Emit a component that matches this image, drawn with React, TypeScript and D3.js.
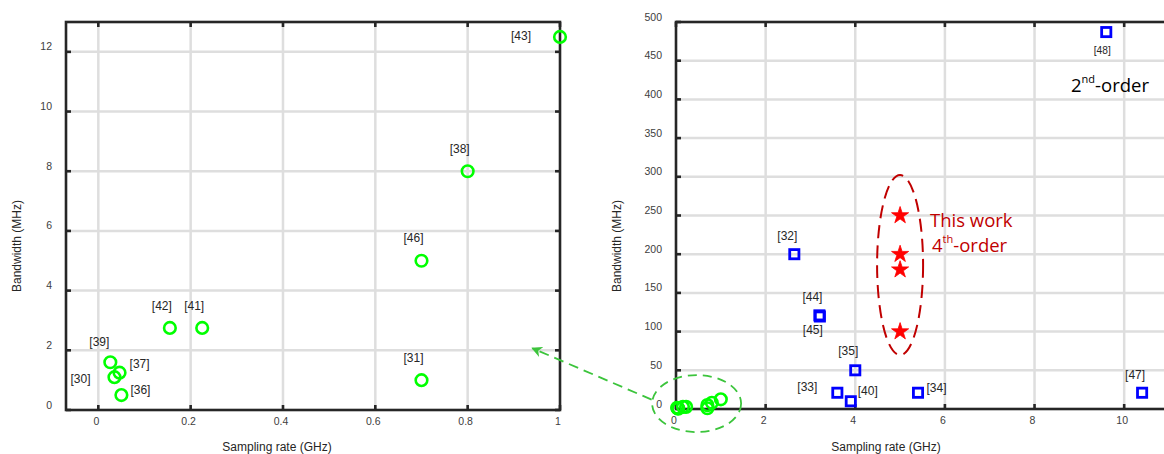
import React, { useEffect, useRef } from "react";
import * as d3 from "d3";

// low sampling-rate references (green circles), shown in both panels
const lowRateLabels = ["[43]", "[38]", "[46]", "[31]", "[42]", "[41]", "[39]", "[37]", "[30]", "[36]"];
const lowRateFs = [1.0, 0.8, 0.7, 0.7, 0.155, 0.225, 0.026, 0.046, 0.035, 0.05]; // GHz
const lowRateBw = [12.5, 8, 5, 1, 2.75, 2.75, 1.6, 1.25, 1.1, 0.5]; // MHz

// 2nd-order references (blue squares)
const highRateLabels = ["[48]", "[32]", "[44]", "[45]", "[35]", "[33]", "[40]", "[34]", "[47]"];
const highRateFs = [9.6, 2.64, 3.2, 3.21, 4.0, 3.6, 3.9, 5.4, 10.4];
const highRateBw = [487, 200, 121, 119.5, 50, 21, 10, 21, 21];

// this work, 4th-order (red stars)
const thisWorkFs = [5, 5, 5, 5];
const thisWorkBw = [250, 200, 180, 100];

const leftXTicks = [0, 0.2, 0.4, 0.6, 0.8, 1];
const leftYTicks = [0, 2, 4, 6, 8, 10, 12];
const rightXTicks = [0, 2, 4, 6, 8, 10];
const rightYTicks = [0, 50, 100, 150, 200, 250, 300, 350, 400, 450, 500];

// label placement, pixel offsets from the marker
const labelOffsets: Record<string, [number, number]> = {
  "[43]": [-39, -1],
  "[38]": [-8, -22],
  "[46]": [-8, -22.5],
  "[31]": [-8, -22.5],
  "[42]": [-8, -22.5],
  "[41]": [-8, -22.5],
  "[39]": [-11, -20],
  "[37]": [20, -9],
  "[30]": [-34, 1.5],
  "[36]": [19, -5],
  "[48]": [-4, 18],
  "[32]": [-7, -18],
  "[44]": [-7, -19],
  "[45]": [-7, 13],
  "[35]": [-7, -20],
  "[33]": [-30, -6],
  "[40]": [17, -10],
  "[34]": [18.5, -4.5],
  "[47]": [-7, -18],
};

const W = 1164;
const H = 454;
const FRAME = "#262626";
const GRID = "#dedede";
const GREEN = "#00ff00";
const DASH_GREEN = "#3cc43c";
const tickFont = "'Liberation Sans', Arial, sans-serif";

function starPath(cx: number, cy: number, R: number) {
  const r = R * 0.382;
  const pts: [number, number][] = [];
  for (let i = 0; i < 10; i++) {
    const a = -Math.PI / 2 + (i * Math.PI) / 5;
    const rr = i % 2 === 0 ? R : r;
    pts.push([cx + rr * Math.cos(a), cy + rr * Math.sin(a)]);
  }
  return "M" + pts.map((p) => p.join(",")).join("L") + "Z";
}

const App: React.FC = () => {
  const svgRef = useRef<SVGSVGElement | null>(null);

  useEffect(() => {
    if (!svgRef.current) return;
    const svg = d3.select(svgRef.current);
    svg.selectAll("*").remove();

    const lowData = lowRateLabels.map((l, i) => ({ label: l, fs: lowRateFs[i], bw: lowRateBw[i] }));
    const highData = highRateLabels.map((l, i) => ({ label: l, fs: highRateFs[i], bw: highRateBw[i] }));
    const starData = thisWorkFs.map((f, i) => ({ fs: f, bw: thisWorkBw[i] }));

    const drawPanel = (
      x: d3.ScaleLinear<number, number>,
      y: d3.ScaleLinear<number, number>,
      xTicks: number[],
      yTicks: number[],
      fmtX: (v: number) => string
    ) => {
      const [x0, x1] = x.range();
      const [y0, y1] = y.range();
      const g = svg.append("g");

      // grid
      g.selectAll("line.vgrid")
        .data(xTicks.filter((t) => x(t) > x0 + 2 && x(t) < x1 - 2))
        .join("line")
        .attr("x1", (d) => x(d))
        .attr("x2", (d) => x(d))
        .attr("y1", y1)
        .attr("y2", y0)
        .attr("stroke", GRID)
        .attr("stroke-width", 2.5);
      g.selectAll("line.hgrid")
        .data(yTicks.filter((t) => y(t) < y0 - 2 && y(t) > y1 + 2))
        .join("line")
        .attr("x1", x0)
        .attr("x2", x1)
        .attr("y1", (d) => y(d))
        .attr("y2", (d) => y(d))
        .attr("stroke", GRID)
        .attr("stroke-width", 2.5);

      // frame
      g.append("rect")
        .attr("x", x0)
        .attr("y", y1)
        .attr("width", x1 - x0)
        .attr("height", y0 - y1)
        .attr("fill", "none")
        .attr("stroke", FRAME)
        .attr("stroke-width", 2.6);

      // ticks (inward, all four sides)
      const tl = 5;
      xTicks.forEach((t) => {
        g.append("line").attr("x1", x(t)).attr("x2", x(t)).attr("y1", y0).attr("y2", y0 - tl)
          .attr("stroke", FRAME).attr("stroke-width", 2.6);
        g.append("line").attr("x1", x(t)).attr("x2", x(t)).attr("y1", y1).attr("y2", y1 + tl)
          .attr("stroke", FRAME).attr("stroke-width", 2.6);
      });
      yTicks.forEach((t) => {
        g.append("line").attr("x1", x0).attr("x2", x0 + tl).attr("y1", y(t)).attr("y2", y(t))
          .attr("stroke", FRAME).attr("stroke-width", 2.6);
        g.append("line").attr("x1", x1).attr("x2", x1 - tl).attr("y1", y(t)).attr("y2", y(t))
          .attr("stroke", FRAME).attr("stroke-width", 2.6);
      });

      // tick labels
      g.selectAll("text.xt")
        .data(xTicks)
        .join("text")
        .attr("x", (d) => x(d) - 2)
        .attr("y", y0 + 15)
        .attr("text-anchor", "middle")
        .attr("font-family", tickFont)
        .attr("font-size", 10.5)
        .attr("fill", "#404040")
        .text((d) => fmtX(d));
      g.selectAll("text.yt")
        .data(yTicks)
        .join("text")
        .attr("x", x0 - 14)
        .attr("y", (d) => y(d) - 1.5)
        .attr("text-anchor", "end")
        .attr("font-family", tickFont)
        .attr("font-size", 10.5)
        .attr("fill", "#404040")
        .text((d) => String(d));
    };

    const axisLabel = (txt: string, xx: number, yy: number, rotate = false) => {
      svg.append("text")
        .attr("transform", rotate ? `translate(${xx},${yy}) rotate(-90)` : `translate(${xx},${yy})`)
        .attr("text-anchor", "middle")
        .attr("font-family", tickFont)
        .attr("font-size", 12)
        .attr("fill", "#262626")
        .text(txt);
    };

    const refLabels = (
      data: { label: string; fs: number; bw: number }[],
      x: d3.ScaleLinear<number, number>,
      y: d3.ScaleLinear<number, number>
    ) => {
      svg.append("g")
        .selectAll("text")
        .data(data)
        .join("text")
        .attr("x", (d) => x(d.fs) + labelOffsets[d.label][0])
        .attr("y", (d) => y(d.bw) + labelOffsets[d.label][1])
        .attr("dy", "0.35em")
        .attr("text-anchor", "middle")
        .attr("font-family", tickFont)
        .attr("font-size", (d) => (d.label === "[48]" ? 10.2 : 12))
        .attr("fill", "#262626")
        .text((d) => d.label);
    };

    // ---------- left panel (zoom on < 1 GHz) ----------
    const xL = d3.scaleLinear().domain([-0.07, 1.0]).range([66, 560]);
    const yL = d3.scaleLinear().domain([0, 13]).range([410, 22]);
    drawPanel(xL, yL, leftXTicks, leftYTicks, (v) => String(v));
    axisLabel("Sampling rate (GHz)", 277, 451);
    axisLabel("Bandwidth (MHz)", 21, 246, true);

    svg.append("g")
      .selectAll("circle")
      .data(lowData)
      .join("circle")
      .attr("cx", (d) => xL(d.fs))
      .attr("cy", (d) => yL(d.bw))
      .attr("r", 5.8)
      .attr("fill", "none")
      .attr("stroke", GREEN)
      .attr("stroke-width", 2.6);
    refLabels(lowData, xL, yL);

    // ---------- right panel ----------
    const xR = d3.scaleLinear().domain([0, 11]).range([676, 1169]);
    const yR = d3.scaleLinear().domain([0, 500]).range([409, 22]);
    drawPanel(xR, yR, rightXTicks, rightYTicks, (v) => String(v));
    axisLabel("Sampling rate (GHz)", 886, 451);
    axisLabel("Bandwidth (MHz)", 621, 246, true);

    svg.append("g")
      .selectAll("circle")
      .data(lowData)
      .join("circle")
      .attr("cx", (d) => xR(d.fs))
      .attr("cy", (d) => yR(d.bw))
      .attr("r", 5.8)
      .attr("fill", "none")
      .attr("stroke", GREEN)
      .attr("stroke-width", 2.6);

    svg.append("g")
      .selectAll("rect")
      .data(highData)
      .join("rect")
      .attr("x", (d) => xR(d.fs) - 4.6)
      .attr("y", (d) => yR(d.bw) - 4.6)
      .attr("width", 9.2)
      .attr("height", 9.2)
      .attr("fill", "none")
      .attr("stroke", "#0000ff")
      .attr("stroke-width", 2.8);
    refLabels(highData, xR, yR);

    svg.append("g")
      .selectAll("path")
      .data(starData)
      .join("path")
      .attr("d", (d) => starPath(xR(d.fs), yR(d.bw), 9))
      .attr("fill", "#ff0000")
      .attr("stroke", "#ff0000")
      .attr("stroke-width", 0.8);

    // red dashed ellipse around this work
    svg.append("ellipse")
      .attr("cx", xR(5))
      .attr("cy", yR(186))
      .attr("rx", 23)
      .attr("ry", 90)
      .attr("fill", "none")
      .attr("stroke", "#c00000")
      .attr("stroke-width", 2)
      .attr("stroke-dasharray", "13,7");

    const red = svg.append("text")
      .attr("font-family", "'Open Sans', sans-serif")
      .attr("font-size", 18.5)
      .attr("fill", "#c00000");
    red.append("tspan").attr("x", 930).attr("y", 227).text("This work");
    const ord = svg.append("text")
      .attr("x", 932)
      .attr("y", 252)
      .attr("font-family", "'Open Sans', sans-serif")
      .attr("font-size", 18.5)
      .attr("fill", "#c00000");
    ord.append("tspan").text("4");
    ord.append("tspan").attr("font-size", 11).attr("dy", -9).text("th");
    ord.append("tspan").attr("dy", 9).text("-order");

    const second = svg.append("text")
      .attr("x", 1071)
      .attr("y", 92)
      .attr("font-family", "'Open Sans', sans-serif")
      .attr("font-size", 18.5)
      .attr("fill", "#000");
    second.append("tspan").text("2");
    second.append("tspan").attr("font-size", 11).attr("dy", -9).text("nd");
    second.append("tspan").attr("dy", 9).text("-order");

    // green dashed ellipse around the low-rate cluster + arrow to the zoomed panel
    const ecx = xR(0.46);
    const ecy = yR(7);
    svg.append("ellipse")
      .attr("cx", ecx)
      .attr("cy", ecy)
      .attr("rx", 44.5)
      .attr("ry", 28.5)
      .attr("fill", "none")
      .attr("stroke", DASH_GREEN)
      .attr("stroke-width", 1.8)
      .attr("stroke-dasharray", "9,6");

    const defs = svg.append("defs");
    defs.append("marker")
      .attr("id", "arrowG")
      .attr("viewBox", "0 0 10 10")
      .attr("refX", 9)
      .attr("refY", 5)
      .attr("markerWidth", 6)
      .attr("markerHeight", 6)
      .attr("orient", "auto")
      .append("path")
      .attr("d", "M0,0L10,5L0,10L3,5Z")
      .attr("fill", DASH_GREEN);

    svg.append("line")
      .attr("x1", ecx - 45)
      .attr("y1", ecy - 4)
      .attr("x2", xL(0.94))
      .attr("y2", yL(2.07))
      .attr("stroke", DASH_GREEN)
      .attr("stroke-width", 1.8)
      .attr("stroke-dasharray", "10,6")
      .attr("marker-end", "url(#arrowG)");
  }, []);

  return (
    <svg
      ref={svgRef}
      width={W}
      height={H}
      style={{ position: "absolute", left: 0, top: 0, background: "#fff" }}
    />
  );
};

export default App;
